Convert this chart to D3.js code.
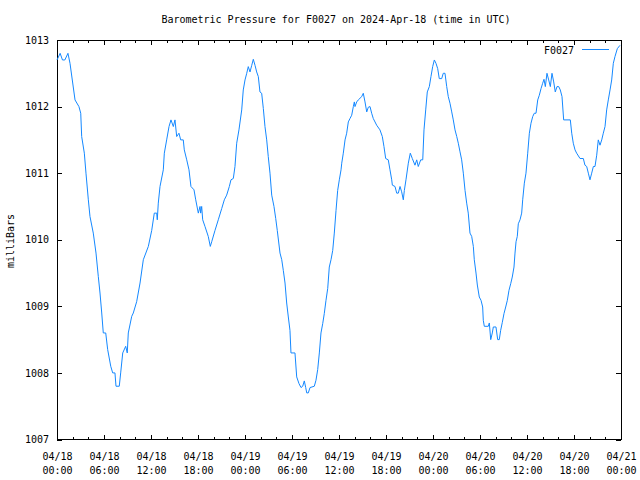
<!DOCTYPE html>
<html lang="en">
	<head>
		<meta charset="utf-8">
		<title>Barometric Pressure F0027</title>
		<script src="https://d3js.org/d3.v7.min.js"></script>
		<style type="text/css">
			body { margin: 0; background: #fff; }
			svg text { font-family: "DejaVu Sans Mono", monospace; font-size: 10px; fill: #000; }
		</style>
	</head>
	<body>
		<svg width="640" height="480"></svg>
		<script>

			//Hours since 2024-04-18 00:00 UTC
			var hours = [0, 0.4, 0.7, 1.0, 1.4, 1.66, 2.3, 2.8, 3.03, 3.15, 3.49, 3.7, 4.0, 4.21, 4.63, 4.98, 5.27, 5.49, 5.71, 5.91,
				6.22, 6.47, 6.86, 7.11, 7.4, 7.53, 7.95, 8.13, 8.39, 8.77, 8.97, 9.1, 9.54, 9.74, 10.17, 10.6, 11.02, 11.66, 12.09, 12.42,
				12.73, 12.8, 12.93, 13.15, 13.57, 13.7, 14.0, 14.3, 14.55, 14.85, 15.06, 15.28, 15.57, 15.79, 16.12, 16.25, 16.56, 16.85, 17.1, 17.49,
				17.71, 18.04, 18.26, 18.34, 18.47, 18.6, 18.89, 19.31, 19.57, 19.75, 20.17, 20.59, 21.03, 21.36, 21.66, 22.0, 22.21, 22.51, 22.72, 22.94,
				23.23, 23.58, 23.78, 24.0, 24.22, 24.42, 24.64, 24.86, 25.06, 25.28, 25.49, 25.7, 25.91, 26.13, 26.34, 26.55, 26.77, 26.97, 27.19, 27.41,
				27.7, 27.92, 28.12, 28.47, 28.69, 28.89, 29.11, 29.32, 29.53, 29.74, 29.87, 30.38, 30.6, 30.89, 31.15, 31.37, 31.57, 31.75, 31.88, 32.08,
				32.3, 32.85, 33.06, 33.28, 33.49, 33.7, 33.92, 34.12, 34.34, 34.56, 34.76, 34.98, 35.2, 35.4, 35.62, 35.83, 36.04, 36.26, 36.35, 36.55,
				36.77, 36.98, 37.19, 37.4, 37.62, 37.83, 37.96, 38.04, 38.26, 38.46, 38.9, 39.1, 39.32, 39.54, 39.74, 39.96, 40.17, 40.38, 40.81, 41.23,
				41.53, 41.74, 41.96, 42.29, 42.51, 42.73, 42.81, 43.15, 43.37, 43.57, 43.79, 44.0, 44.21, 44.34, 44.55, 44.85, 45.1, 45.36, 45.7, 45.92,
				46.12, 46.43, 46.69, 46.85, 47.07, 47.27, 47.53, 47.74, 47.96, 48.17, 48.38, 48.6, 48.8, 49.11, 49.31, 49.53, 49.75, 49.95, 50.17, 50.39,
				50.59, 50.81, 51.03, 51.23, 51.45, 51.66, 51.87, 52.09, 52.3, 52.5, 52.72, 52.94, 53.15, 53.27, 53.49, 53.66, 53.91, 54.13, 54.34, 54.42,
				54.55, 55.06, 55.19, 55.37, 55.57, 55.7, 56.04, 56.26, 56.46, 56.64, 56.85, 57.06, 57.28, 57.49, 57.7, 57.92, 58.12, 58.34, 58.47, 58.6,
				58.76, 58.89, 59.11, 59.32, 59.45, 59.66, 59.87, 60.09, 60.3, 60.51, 60.73, 60.93, 61.15, 61.37, 61.57, 61.79, 62.0, 62.17, 62.34, 62.55,
				62.77, 62.98, 63.19, 63.41, 63.61, 63.83, 64.05, 64.25, 64.47, 64.68, 65.53, 65.71, 65.91, 66.13, 66.34, 66.77, 67.19, 67.4, 67.62, 67.83,
				68.04, 68.26, 68.47, 68.68, 68.9, 69.1, 69.32, 69.54, 69.74, 69.96, 70.17, 70.38, 70.6, 70.81, 71.02, 71.23, 71.53, 71.87];

			//Pressure readings, mbar
			var mbar = [1012.7, 1012.8, 1012.7, 1012.7, 1012.8, 1012.65, 1012.1, 1012.0, 1011.9, 1011.55, 1011.3, 1011.0, 1010.6, 1010.35, 1010.1, 1009.8, 1009.45, 1009.2, 1008.9, 1008.6,
				1008.6, 1008.35, 1008.1, 1008.0, 1008.0, 1007.8, 1007.8, 1008.0, 1008.3, 1008.4, 1008.3, 1008.6, 1008.85, 1008.9, 1009.07, 1009.35, 1009.7, 1009.9, 1010.14, 1010.4,
				1010.4, 1010.3, 1010.55, 1010.8, 1011.05, 1011.3, 1011.5, 1011.7, 1011.8, 1011.7, 1011.8, 1011.55, 1011.6, 1011.5, 1011.5, 1011.35, 1011.2, 1011.05, 1010.8, 1010.75,
				1010.6, 1010.4, 1010.5, 1010.4, 1010.5, 1010.3, 1010.2, 1010.05, 1009.9, 1009.97, 1010.14, 1010.3, 1010.47, 1010.6, 1010.67, 1010.8, 1010.9, 1010.92, 1011.1, 1011.45,
				1011.65, 1011.95, 1012.25, 1012.4, 1012.5, 1012.6, 1012.52, 1012.62, 1012.71, 1012.62, 1012.52, 1012.45, 1012.22, 1012.2, 1011.97, 1011.7, 1011.5, 1011.25, 1011.0, 1010.67,
				1010.5, 1010.32, 1010.14, 1009.8, 1009.7, 1009.54, 1009.35, 1009.05, 1008.84, 1008.64, 1008.3, 1008.3, 1007.94, 1007.84, 1007.78, 1007.8, 1007.88, 1007.78, 1007.7, 1007.7,
				1007.78, 1007.8, 1007.89, 1008.05, 1008.3, 1008.6, 1008.74, 1008.89, 1009.09, 1009.27, 1009.59, 1009.7, 1009.84, 1010.1, 1010.44, 1010.74, 1010.9, 1011.05, 1011.15, 1011.3,
				1011.5, 1011.6, 1011.77, 1011.82, 1011.87, 1012.0, 1012.07, 1012.0, 1012.07, 1012.1, 1012.15, 1012.2, 1012.07, 1011.92, 1011.99, 1012.0, 1011.9, 1011.82, 1011.72, 1011.65,
				1011.55, 1011.4, 1011.22, 1011.2, 1011.05, 1010.9, 1010.82, 1010.8, 1010.7, 1010.7, 1010.8, 1010.72, 1010.6, 1010.74, 1010.9, 1011.15, 1011.3, 1011.22, 1011.12, 1011.2,
				1011.1, 1011.2, 1011.2, 1011.65, 1011.95, 1012.22, 1012.3, 1012.45, 1012.6, 1012.7, 1012.65, 1012.57, 1012.42, 1012.42, 1012.5, 1012.5, 1012.3, 1012.15, 1012.05, 1011.92,
				1011.8, 1011.65, 1011.55, 1011.45, 1011.32, 1011.2, 1011.0, 1010.74, 1010.55, 1010.4, 1010.1, 1010.05, 1009.9, 1009.7, 1009.5, 1009.32, 1009.14, 1009.09, 1008.99, 1008.79,
				1008.7, 1008.7, 1008.75, 1008.5, 1008.6, 1008.69, 1008.69, 1008.5, 1008.5, 1008.64, 1008.76, 1008.89, 1008.99, 1009.09, 1009.24, 1009.34, 1009.44, 1009.59, 1009.8, 1009.97,
				1010.05, 1010.24, 1010.3, 1010.4, 1010.6, 1010.85, 1011.0, 1011.3, 1011.6, 1011.75, 1011.85, 1011.9, 1011.9, 1012.1, 1012.17, 1012.27, 1012.35, 1012.41, 1012.3, 1012.5,
				1012.4, 1012.3, 1012.5, 1012.37, 1012.22, 1012.3, 1012.3, 1012.25, 1012.15, 1011.8, 1011.8, 1011.6, 1011.45, 1011.35, 1011.3, 1011.22, 1011.22, 1011.12, 1011.1, 1011.0,
				1010.9, 1011.0, 1011.1, 1011.1, 1011.27, 1011.5, 1011.42, 1011.5, 1011.6, 1011.7, 1011.95, 1012.1, 1012.25, 1012.4, 1012.65, 1012.75, 1012.87, 1012.92];

			var yTicks = [1007, 1008, 1009, 1010, 1011, 1012, 1013];
			var timeStart = new Date(Date.UTC(2024, 3, 18, 0, 0));
			var timeEnd = new Date(Date.UTC(2024, 3, 21, 0, 0));

			var titleText = "Barometric Pressure for F0027 on 2024-Apr-18 (time in UTC)";
			var yLabelText = "milliBars";
			var seriesName = "F0027";
			var lineColor = "#1488ff";

			//Plot box
			var plotL = 57, plotR = 621, plotT = 40, plotB = 439.5;

			var svg = d3.select("svg");

			var data = hours.map(function(h, i) {
				return { t: new Date(timeStart.getTime() + h * 3600000), v: mbar[i] };
			});

			var xScale = d3.scaleUtc().domain([timeStart, timeEnd]).range([plotL, plotR]);
			var yScale = d3.scaleLinear().domain([1007, 1013]).range([plotB, plotT]);

			var fmtDay = d3.utcFormat("%m/%d");
			var fmtHour = d3.utcFormat("%H:%M");

			// minor ticks every 2h, bottom and top
			svg.append("g")
				.attr("transform", "translate(0," + plotB + ")")
				.call(d3.axisBottom(xScale).ticks(d3.utcHour.every(2)).tickSize(-3).tickFormat(""))
				.call(function(g) { g.select(".domain").remove(); });
			svg.append("g")
				.attr("transform", "translate(0," + plotT + ")")
				.call(d3.axisTop(xScale).ticks(d3.utcHour.every(2)).tickSize(-3).tickFormat(""))
				.call(function(g) { g.select(".domain").remove(); });

			// major ticks every 6h
			var xAxis = svg.append("g")
				.attr("transform", "translate(0," + plotB + ")")
				.call(d3.axisBottom(xScale).ticks(d3.utcHour.every(6)).tickSize(-5).tickPadding(13).tickFormat(fmtDay));
			xAxis.select(".domain").remove();
			xAxis.attr("font-family", null).attr("font-size", null);
			xAxis.selectAll(".tick text")
				.each(function(d) {
					d3.select(this).append("tspan").attr("x", 0).attr("dy", "1.4em").text(fmtHour(d));
				});
			svg.append("g")
				.attr("transform", "translate(0," + plotT + ")")
				.call(d3.axisTop(xScale).ticks(d3.utcHour.every(6)).tickSize(-5).tickFormat(""))
				.call(function(g) { g.select(".domain").remove(); });

			// y ticks, mirrored on the right
			var yAxis = svg.append("g")
				.attr("transform", "translate(" + plotL + ",0)")
				.call(d3.axisLeft(yScale).tickValues(yTicks).tickSize(-5).tickPadding(8).tickFormat(d3.format("d")));
			yAxis.select(".domain").remove();
			yAxis.attr("font-family", null).attr("font-size", null);
			svg.append("g")
				.attr("transform", "translate(" + plotR + ",0)")
				.call(d3.axisRight(yScale).tickValues(yTicks).tickSize(-5).tickFormat(""))
				.call(function(g) { g.select(".domain").remove(); });

			svg.selectAll(".tick line").attr("stroke", "#000").attr("shape-rendering", "crispEdges");

			//Frame
			svg.append("rect")
				.attr("x", plotL).attr("y", plotT)
				.attr("width", plotR - plotL).attr("height", plotB - plotT)
				.attr("fill", "none").attr("stroke", "#000")
				.attr("shape-rendering", "crispEdges");

			//Series line
			var line = d3.line()
				.x(function(d) { return xScale(d.t); })
				.y(function(d) { return yScale(d.v); });

			svg.append("path")
				.datum(data)
				.attr("d", line)
				.attr("fill", "none")
				.attr("stroke", lineColor)
				.attr("stroke-width", 1);

			//Title
			svg.append("text")
				.attr("x", 336).attr("y", 23)
				.attr("text-anchor", "middle")
				.text(titleText);

			//Y label
			svg.append("text")
				.attr("transform", "translate(14,241) rotate(-90)")
				.attr("text-anchor", "middle")
				.text(yLabelText);

			//Legend
			svg.append("text")
				.attr("x", 574).attr("y", 53.5)
				.attr("text-anchor", "end")
				.text(seriesName);
			svg.append("line")
				.attr("x1", 582).attr("x2", 609)
				.attr("y1", 49.5).attr("y2", 49.5)
				.attr("stroke", lineColor)
				.attr("shape-rendering", "crispEdges");

		</script>
	</body>
</html>
